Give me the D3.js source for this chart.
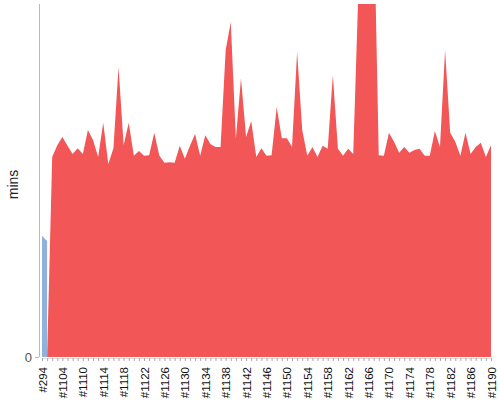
<!DOCTYPE html>
<html>
<head>
<meta charset="utf-8">
<script src="https://cdn.jsdelivr.net/npm/d3@7"></script>
<style>
  body { margin: 0; background: #fff; }
  svg { font-family: Arial, "Liberation Sans", sans-serif; }
</style>
</head>
<body>
<div id="chart"></div>
<script>
// ── data ─────────────────────────────────────────────────────────────────────
const builds = ['#294', '#1101', '#1102', '#1103', '#1104', '#1106', '#1108', '#1109'];
for (let n = 1110; n <= 1190; n++) builds.push('#' + n);

// older build (blue), only the first two points
const oldMins = [20.6, 19.7];

// current builds (red), starts at index 1
const newMins = [
  null, 0, 34.0, 36.0, 37.4, 35.9, 34.5, 35.5, 34.5, 38.6,
  36.9, 34.0, 39.8, 32.8, 35.5, 49.3, 36.0, 39.8, 34.2, 35.0,
  34.2, 34.3, 38.1, 34.2, 33.0, 33.1, 33.0, 35.9, 33.7, 35.9,
  37.9, 34.2, 37.7, 36.2, 35.7, 35.7, 52.2, 56.9, 37.1, 47.4,
  37.4, 40.1, 34.0, 35.5, 34.2, 34.3, 42.5, 37.2, 37.2, 35.7,
  51.9, 38.6, 34.2, 35.7, 34.0, 35.9, 35.4, 47.9, 35.4, 34.2,
  35.4, 34.5, 62.0, 68.0, 72.0, 77.5, 34.3, 34.2, 38.1, 36.6,
  34.7, 35.7, 34.7, 35.2, 35.4, 34.2, 34.2, 38.4, 35.7, 52.2,
  38.1, 36.6, 34.2, 38.1, 34.5, 35.7, 36.4, 34.0, 36.0
];

const yMaxMins = 60;
const yTicks = [0];

// ── layout ───────────────────────────────────────────────────────────────────
const margin = { top: 4, right: 9, bottom: 43, left: 39 };
const width  = 500 - margin.left - margin.right;
const height = 400 - margin.top - margin.bottom;

const svg = d3.select('#chart')
  .append('svg')
    .attr('width', 500)
    .attr('height', 400);

const g = svg.append('g')
  .attr('transform', `translate(${margin.left},${margin.top})`);

const xScale = d3.scalePoint().domain(builds).range([3, width]);
const yScale = d3.scaleLinear().domain([0, yMaxMins]).range([height, 0]);

svg.append('defs').append('clipPath')
  .attr('id', 'plot-clip')
  .append('rect')
    .attr('width', width + 2)
    .attr('height', height);

// ── areas ────────────────────────────────────────────────────────────────────
const area = d3.area()
  .defined(d => d != null)
  .x((d, i) => xScale(builds[i]))
  .y0(yScale(0))
  .y1(d => yScale(d));

const plot = g.append('g').attr('clip-path', 'url(#plot-clip)');

plot.append('path')
  .datum(newMins)
  .attr('fill', '#f25656')
  .attr('d', area);

plot.append('path')
  .datum(oldMins)
  .attr('fill', '#8fb1dc')
  .attr('d', area);

// ── Y axis ───────────────────────────────────────────────────────────────────
g.append('g')
  .attr('class', 'axis axis--y')
  .call(d3.axisLeft(yScale).tickValues(yTicks).tickSize(4).tickPadding(3))
  .call(a => a.select('.domain').attr('stroke', '#bbb').attr('d', `M0.5,0V${height}`))
  .call(a => a.selectAll('.tick line').attr('stroke', '#bbb'))
  .call(a => a.selectAll('.tick text')
    .attr('font-size', 13)
    .attr('fill', '#555'));

g.append('text')
  .attr('transform', 'rotate(-90)')
  .attr('x', -height / 2 - 4)
  .attr('y', -21)
  .attr('text-anchor', 'middle')
  .attr('font-size', 14)
  .attr('fill', '#222')
  .text('mins');

// ── X axis ───────────────────────────────────────────────────────────────────
g.append('g')
  .attr('class', 'axis axis--x')
  .attr('transform', `translate(0,${height + 1})`)
  .call(d3.axisBottom(xScale).tickSize(3).tickSizeOuter(0))
  .call(a => a.select('.domain').attr('stroke', '#ddd'))
  .call(a => a.selectAll('.tick line').attr('stroke', '#aaa'))
  .call(a => a.selectAll('.tick text')
    .attr('display', (d, i) => (i % 4 === 0 ? null : 'none'))
    .attr('font-size', 11.5)
    .attr('fill', '#111')
    .attr('text-anchor', 'end')
    .attr('transform', 'rotate(-90)')
    .attr('x', -9)
    .attr('y', 0)
    .attr('dy', '0.35em'));
</script>
</body>
</html>
